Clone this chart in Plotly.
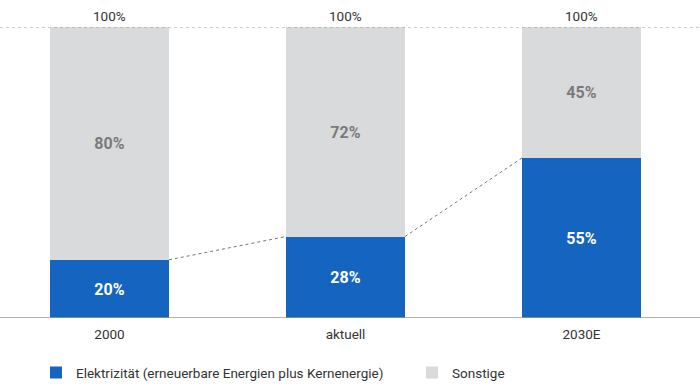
import plotly.graph_objects as go

categories = ["2000", "aktuell", "2030E"]
elektrizitaet = [20, 28, 55]
sonstige = [80, 72, 45]
totals = [100, 100, 100]
series_names = ["Elektrizität (erneuerbare Energien plus Kernenergie)", "Sonstige"]

BLUE = "#1565C0"
GRAY = "#D9DADB"
FONT = "Roboto"
xpos = list(range(len(categories)))
bar_w = 0.504

fig = go.Figure()
fig.add_trace(go.Bar(
    x=xpos, y=elektrizitaet, name=series_names[0], marker=dict(color=BLUE, line=dict(width=0)),
    width=bar_w, text=[f"{v}%" for v in elektrizitaet], textposition="inside",
    insidetextanchor="middle", textfont=dict(family=FONT, size=16, color="white", weight="bold"),
    hoverinfo="skip", legend="legend"))
fig.add_trace(go.Bar(
    x=xpos, y=sonstige, name=series_names[1], marker=dict(color=GRAY, line=dict(width=0)),
    width=bar_w, text=[f"{v}%" for v in sonstige], textposition="inside",
    insidetextanchor="middle", textfont=dict(family=FONT, size=16, color="#7a7a7a", weight="bold"),
    hoverinfo="skip", legend="legend2"))

# connector lines between blue tops
for i in range(len(categories) - 1):
    fig.add_trace(go.Scatter(
        x=[xpos[i] + bar_w / 2, xpos[i + 1] - bar_w / 2],
        y=[elektrizitaet[i], elektrizitaet[i + 1]],
        mode="lines", line=dict(color="#777777", width=1, dash="dot"),
        showlegend=False, hoverinfo="skip"))

fig.add_shape(type="line", xref="paper", x0=0, x1=1, yref="y", y0=100, y1=100,
              line=dict(color="#999999", width=1, dash="dot"), layer="above")

for i, t in enumerate(totals):
    fig.add_annotation(x=xpos[i], y=t, text=f"{t}%", showarrow=False, yanchor="bottom",
                       yshift=1, font=dict(family=FONT, size=13.5, color="#333333"))

legend_common = dict(orientation="h", yanchor="top", y=-0.135,
                     font=dict(family=FONT, size=13.5, color="#333333"),
                     bgcolor="rgba(0,0,0,0)")

fig.update_layout(
    width=700, height=390, barmode="stack",
    margin=dict(l=0, r=0, t=27, b=72, autoexpand=False),
    paper_bgcolor="white", plot_bgcolor="white",
    font=dict(family=FONT, size=13.5, color="#333333"),
    bargap=0,
    xaxis=dict(range=[-0.464, 2.502], tickvals=xpos, ticktext=categories, showgrid=False,
               zeroline=False, showline=False, ticks="outside", ticklen=4, tickcolor="rgba(0,0,0,0)",
               tickfont=dict(family=FONT, size=13.5, color="#333333"),
               fixedrange=True, automargin=False),
    yaxis=dict(range=[0, 100], visible=False, fixedrange=True, automargin=False),
    legend=dict(x=0.0514, xanchor="left", **legend_common),
    legend2=dict(x=0.5886, xanchor="left", **legend_common),
    showlegend=True,
)
fig.add_shape(type="line", xref="paper", x0=0, x1=1, yref="y", y0=0, y1=0,
              line=dict(color="#999999", width=1.5), layer="above")

fig.write_html("out.html", config={"displayModeBar": False},
               post_script="document.body.style.margin='0';")
